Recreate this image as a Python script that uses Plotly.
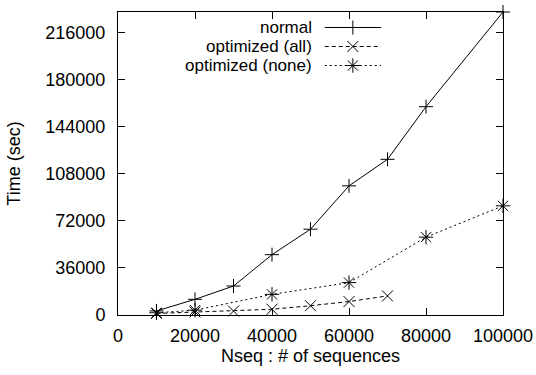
import plotly.graph_objects as go

# ---- data ----
x_normal = [10000, 20000, 30000, 40000, 50000, 60000, 70000, 80000, 100000]
y_normal = [3100, 12000, 22200, 46200, 65700, 98900, 119200, 159500, 232000]

x_all = [10000, 20000, 30000, 40000, 50000, 60000, 70000]
y_all = [1200, 2300, 3000, 4400, 7100, 10300, 14600]

x_none = [10000, 20000, 40000, 60000, 80000, 100000]
y_none = [1700, 3700, 15800, 24800, 59600, 83600]

series_names = ["normal", "optimized (all)", "optimized (none)"]
x_ticks = [0, 20000, 40000, 60000, 80000, 100000]
y_ticks = [0, 36000, 72000, 108000, 144000, 180000, 216000]

FONT = "Liberation Sans, Arial, Helvetica, sans-serif"
FS = 18
FS_KEY = 17
BLACK = "#000000"

styles = [
    dict(dash="solid", symbol="cross-thin", size=10),
    dict(dash="4px,3px", symbol="x-thin", size=11),
    dict(dash="2px,3px", symbol="asterisk", size=12),
]
data = [(x_normal, y_normal), (x_all, y_all), (x_none, y_none)]

fig = go.Figure()
for (xs, ys), st, name in zip(data, styles, series_names):
    fig.add_trace(go.Scatter(
        x=xs, y=ys, mode="lines+markers", name=name, showlegend=False,
        line=dict(color=BLACK, width=1, dash=st["dash"]),
        marker=dict(symbol=st["symbol"], size=st["size"],
                    color=BLACK, line=dict(color=BLACK, width=1)),
        cliponaxis=False,
    ))

# ---- gnuplot-style legend (key samples on an overlay axis) ----
key_x0, key_x1, key_xm = 0.537, 0.683, 0.61
key_text_x = 0.506
key_rows = [0.9488, 0.8861, 0.8234]
for st, name, ky in zip(styles, series_names, key_rows):
    fig.add_trace(go.Scatter(
        x=[key_x0, key_xm, key_x1], y=[ky, ky, ky],
        xaxis="x2", yaxis="y2", mode="lines", showlegend=False,
        line=dict(color=BLACK, width=1, dash=st["dash"]), hoverinfo="skip",
    ))
    fig.add_trace(go.Scatter(
        x=[key_xm], y=[ky], xaxis="x2", yaxis="y2", mode="markers",
        showlegend=False, hoverinfo="skip",
        marker=dict(symbol=st["symbol"], size=st["size"], color=BLACK,
                    line=dict(color=BLACK, width=1)),
    ))
    fig.add_annotation(
        x=key_text_x, y=ky, xref="x2", yref="y2", text=name,
        showarrow=False, xanchor="right", yanchor="middle", borderpad=0,
        font=dict(family=FONT, size=FS_KEY, color=BLACK),
    )

axis_common = dict(
    showgrid=False, zeroline=False, showline=True, linecolor=BLACK,
    linewidth=1, mirror="ticks", ticks="inside", ticklen=7,
    tickcolor=BLACK, tickwidth=1, automargin=False,
    tickfont=dict(family=FONT, size=FS, color=BLACK),
)

fig.update_layout(
    width=536, height=375,
    margin=dict(l=118, r=33, t=12, b=60),
    paper_bgcolor="white", plot_bgcolor="white",
    font=dict(family=FONT, size=FS, color=BLACK),
    xaxis=dict(range=[0, 100000], tickvals=x_ticks,
               ticktext=[str(v) for v in x_ticks],
               ticklabelstandoff=4,
               title=dict(text="Nseq : # of sequences",
                          font=dict(family=FONT, size=FS, color=BLACK),
                          standoff=4),
               **axis_common),
    yaxis=dict(range=[0, 232000], tickvals=y_ticks,
               ticktext=[str(v) for v in y_ticks],
               ticklabelstandoff=8,
               title=dict(text="Time (sec)",
                          font=dict(family=FONT, size=FS, color=BLACK),
                          standoff=20),
               **axis_common),
    xaxis2=dict(range=[0, 1], overlaying="x", visible=False, fixedrange=True),
    yaxis2=dict(range=[0, 1], overlaying="y", visible=False, fixedrange=True),
    showlegend=False,
)

fig.write_html("out.html",
               config={"displayModeBar": False},
               post_script="document.body.style.margin='0';")
